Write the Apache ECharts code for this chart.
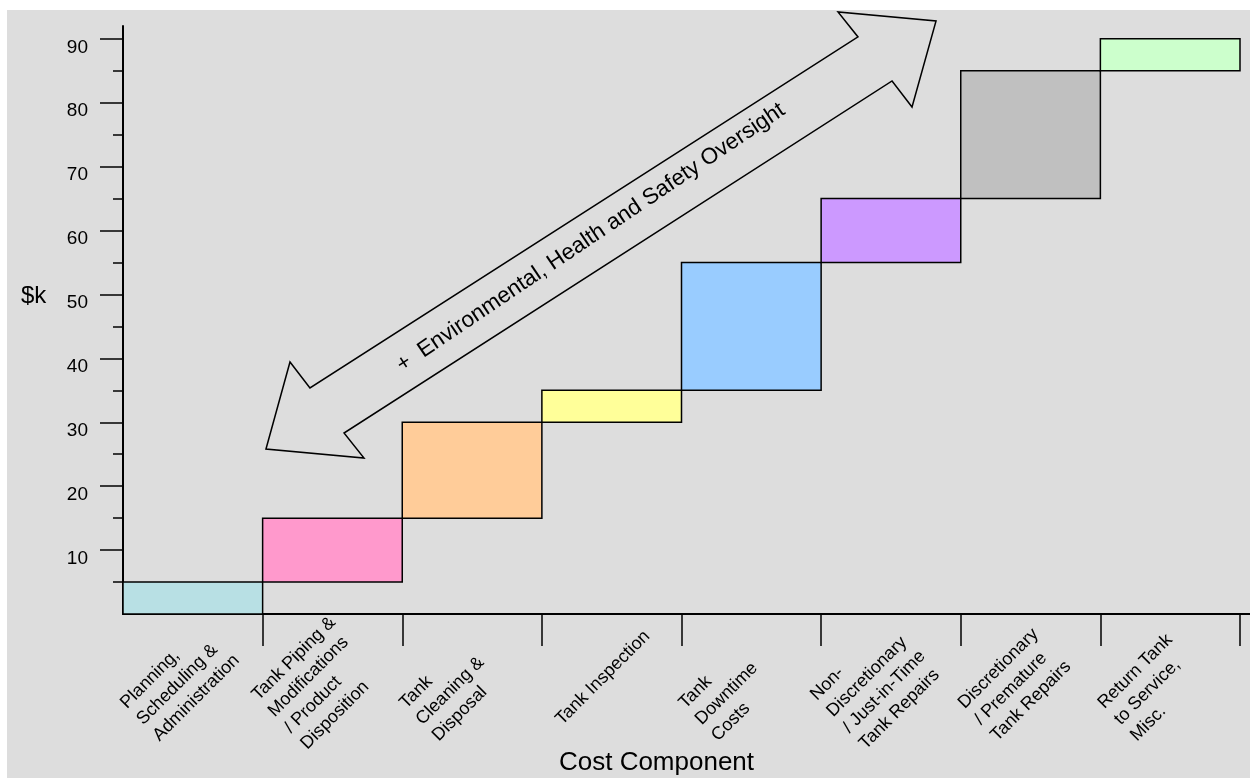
<!DOCTYPE html>
<html>
<head>
<meta charset="utf-8">
<script src="https://cdn.jsdelivr.net/npm/echarts@6/dist/echarts.min.js"></script>
<style>
  html, body { margin: 0; padding: 0; background: #ffffff; }
  #c { position: absolute; left: 7px; top: 10px; width: 1243px; height: 768px; }
</style>
</head>
<body>
<div id="c"></div>
<script>
// ---- data ----
const categories = [
  'Planning,\nScheduling &\nAdministration',
  'Tank Piping &\nModifications\n/ Product\nDisposition',
  'Tank\nCleaning &\nDisposal',
  'Tank Inspection',
  'Tank\nDowntime\nCosts',
  'Non-\nDiscretionary\n/ Just-in-Time\nTank Repairs',
  'Discretionary\n/ Premature\nTank Repairs',
  'Return Tank\nto Service,\nMisc.'
];
const baseValues = [0, 5, 15, 30, 35, 55, 65, 85];
const topValues  = [5, 15, 30, 35, 55, 65, 85, 90];
const majorTicks = [10, 20, 30, 40, 50, 60, 70, 80, 90];
const minorTicks = [5, 15, 25, 35, 45, 55, 65, 75, 85];
const boundaryTicks = [1, 2, 3, 4, 5, 6, 7, 8];
const arrowText = '+  Environmental, Health and Safety Oversight';

// ---- styles / layout ----
const palette = ['#b8e0e4', '#ff99cc', '#ffcc99', '#ffff99', '#99ccff', '#cc99ff', '#c0c0c0', '#ccffcc'];
const FONT = "'Liberation Sans', Arial, Helvetica, sans-serif";
const labelShift = 0.38;
// arrow outline in axis space (x: category units, y: $k)
const arrowX = [1.024, 1.196, 1.339, 5.264, 5.121, 5.823, 5.651, 5.508, 1.583, 1.726];
const arrowY = [25.82, 39.43, 35.37, 90.29, 94.20, 92.79, 79.33, 83.40, 28.32, 24.41];
const arrowTextPos = [3.35, 58.9];

const chart = echarts.init(document.getElementById('c'));

const barData = categories.map((c, i) => [i, baseValues[i], topValues[i]]);

const option = {
  backgroundColor: '#dddddd',
  animation: false,
  textStyle: { fontFamily: FONT, color: '#000' },
  title: {
    text: '$k',
    left: 14,
    top: 274,
    padding: 0,
    textStyle: { fontSize: 24, fontWeight: 'normal', color: '#000', fontFamily: FONT }
  },
  grid: { left: 116, top: 16, right: 0, bottom: 164, outerBoundsMode: 'none', containLabel: false },
  xAxis: [{
    type: 'value',
    min: 0,
    max: 8.0716,
    splitLine: { show: false },
    axisLine: { show: true, onZero: false, lineStyle: { color: '#000', width: 2 } },
    axisTick: { show: true, customValues: boundaryTicks, length: 32, lineStyle: { color: '#000', width: 1.5 } },
    axisLabel: {
      show: true,
      customValues: categories.map((c, i) => i + 0.5 - labelShift),
      formatter: function (v) { return categories[Math.round(v + labelShift - 0.5)] || ''; },
      rotate: 45,
      align: 'left',
      verticalAlign: 'middle',
      margin: 108,
      fontSize: 18,
      lineHeight: 23,
      color: '#000',
      fontFamily: FONT
    },
    name: 'Cost Component',
    nameLocation: 'middle',
    nameGap: 136,
    nameMoveOverlap: false,
    nameTextStyle: { fontSize: 26, color: '#000', fontFamily: FONT, padding: [0, 60, 0, 0] }
  }],
  yAxis: [{
    type: 'value',
    position: 'left',
    min: 0,
    max: 92,
    interval: 10,
    splitLine: { show: false },
    axisLine: { show: true, onZero: false, lineStyle: { color: '#000', width: 2 } },
    axisTick: { show: true, customValues: majorTicks, length: 23, lineStyle: { color: '#000', width: 1.5 } },
    axisLabel: {
      show: true, customValues: majorTicks, margin: 35, fontSize: 19, color: '#000',
      fontFamily: FONT, verticalAlign: 'top', lineHeight: 17
    }
  }, {
    type: 'value',
    position: 'left',
    min: 0,
    max: 92,
    interval: 10,
    splitLine: { show: false },
    axisLine: { show: false },
    axisTick: { show: true, customValues: minorTicks, length: 10, lineStyle: { color: '#000', width: 1.5 } },
    axisLabel: { show: false }
  }],
  series: [{
    type: 'custom',
    name: 'cost',
    xAxisIndex: 0,
    yAxisIndex: 0,
    data: barData,
    encode: { x: 0, y: [1, 2] },
    renderItem: function (params, api) {
      const i = api.value(0);
      const pTop = api.coord([i, api.value(2)]);
      const pBot = api.coord([i + 1, api.value(1)]);
      return {
        type: 'rect',
        shape: { x: pTop[0], y: pTop[1], width: pBot[0] - pTop[0], height: pBot[1] - pTop[1] },
        style: { fill: palette[i], stroke: '#000', lineWidth: 1.5 }
      };
    }
  }, {
    type: 'custom',
    name: 'arrow',
    xAxisIndex: 0,
    yAxisIndex: 0,
    clip: false,
    silent: true,
    data: [[arrowTextPos[0], arrowTextPos[1]]],
    encode: { x: 0, y: 1 },
    renderItem: function (params, api) {
      const pts = arrowX.map((x, k) => api.coord([x, arrowY[k]]));
      const c = api.coord([api.value(0), api.value(1)]);
      return {
        type: 'group',
        children: [{
          type: 'polygon',
          shape: { points: pts },
          style: { fill: 'none', stroke: '#000', lineWidth: 1.5 }
        }, {
          type: 'text',
          x: c[0], y: c[1],
          rotation: 34 * Math.PI / 180,
          style: {
            text: arrowText, fontSize: 22.5, fontFamily: FONT, fill: '#000',
            align: 'center', verticalAlign: 'middle'
          }
        }]
      };
    }
  }]
};

chart.setOption(option);
</script>
</body>
</html>
